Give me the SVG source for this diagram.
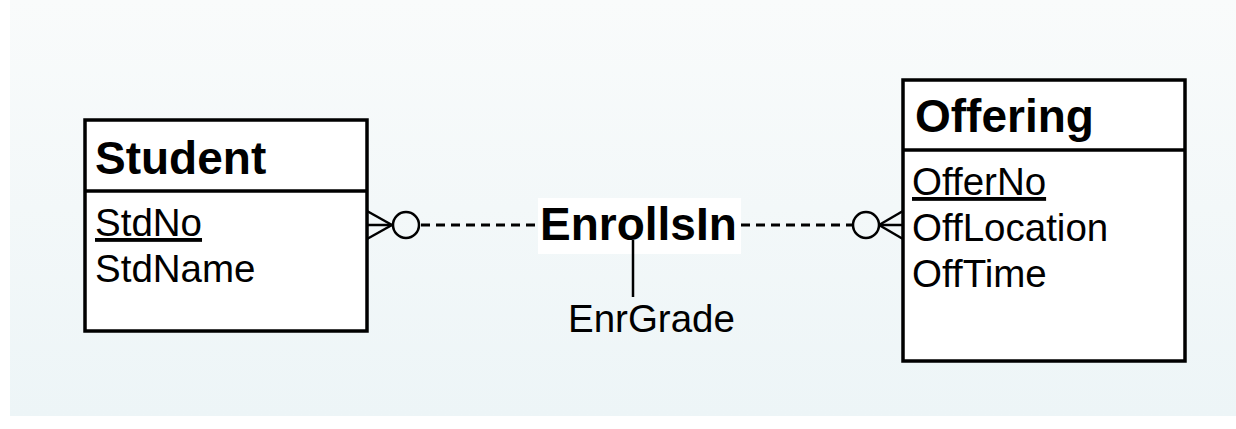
<svg xmlns="http://www.w3.org/2000/svg" width="1236" height="429" viewBox="0 0 1236 429">
  <defs>
    <linearGradient id="bg" x1="0" y1="0" x2="0" y2="1">
      <stop offset="0" stop-color="#f9fbfb"/>
      <stop offset="1" stop-color="#edf5f7"/>
    </linearGradient>
    <style>
      .box { fill: #ffffff; stroke: #000000; stroke-width: 3.5; }
      .sep { stroke: #000000; stroke-width: 3.5; }
      .title { font-family: "Liberation Sans", Arial, sans-serif; font-weight: bold; font-size: 46px; fill: #000000; }
      .attr { font-family: "Liberation Sans", Arial, sans-serif; font-size: 38.5px; fill: #000000; }
      .key { text-decoration: underline; }
      .line { stroke: #000000; stroke-width: 2.5; fill: none; }
      .dash { stroke: #000000; stroke-width: 3; stroke-dasharray: 9 6; fill: none; }
    </style>
  </defs>

  <rect x="0" y="0" width="1236" height="429" fill="#ffffff"/>
  <rect x="10" y="0" width="1226" height="416" fill="url(#bg)"/>

  <!-- Student entity -->
  <g id="student">
    <rect class="box" x="85" y="120" width="282" height="211"/>
    <line class="sep" x1="85" y1="191" x2="367" y2="191"/>
    <text class="title" x="95" y="174">Student</text>
    <text class="attr key" x="95" y="236">StdNo</text>
    <text class="attr" x="95" y="282">StdName</text>
  </g>

  <!-- Offering entity -->
  <g id="offering">
    <rect class="box" x="903" y="80" width="282" height="281"/>
    <line class="sep" x1="903" y1="150" x2="1185" y2="150"/>
    <text class="title" x="915" y="132">Offering</text>
    <text class="attr key" x="912" y="195">OfferNo</text>
    <text class="attr" x="912" y="241">OffLocation</text>
    <text class="attr" x="912" y="287">OffTime</text>
  </g>

  <!-- Relationship label on a white plate -->
  <g id="enrollsin">
    <rect x="538" y="198" width="203" height="56" fill="#ffffff"/>
    <text class="title" x="540" y="240">EnrollsIn</text>
  </g>

  <!-- Relationship attribute -->
  <g id="enrgrade">
    <text class="attr" x="568" y="332">EnrGrade</text>
  </g>

  <!-- Relationship connectors -->
  <g id="connectors">
    <!-- Student side: crow's foot with optional circle -->
    <line class="line" x1="367" y1="211" x2="392" y2="225"/>
    <line class="line" x1="367" y1="225" x2="392" y2="225"/>
    <line class="line" x1="367" y1="239" x2="392" y2="225"/>
    <circle class="line" cx="406" cy="225" r="13"/>
    <line class="dash" x1="421" y1="225" x2="538" y2="225"/>
    <!-- Offering side: crow's foot with optional circle -->
    <line class="dash" x1="741" y1="225" x2="852" y2="225"/>
    <circle class="line" cx="866" cy="225" r="13"/>
    <line class="line" x1="879" y1="225" x2="903" y2="211"/>
    <line class="line" x1="879" y1="225" x2="903" y2="225"/>
    <line class="line" x1="879" y1="225" x2="903" y2="239"/>
    <!-- stem from the relationship to its attribute -->
    <line class="line" x1="633" y1="240" x2="633" y2="297"/>
  </g>
</svg>
